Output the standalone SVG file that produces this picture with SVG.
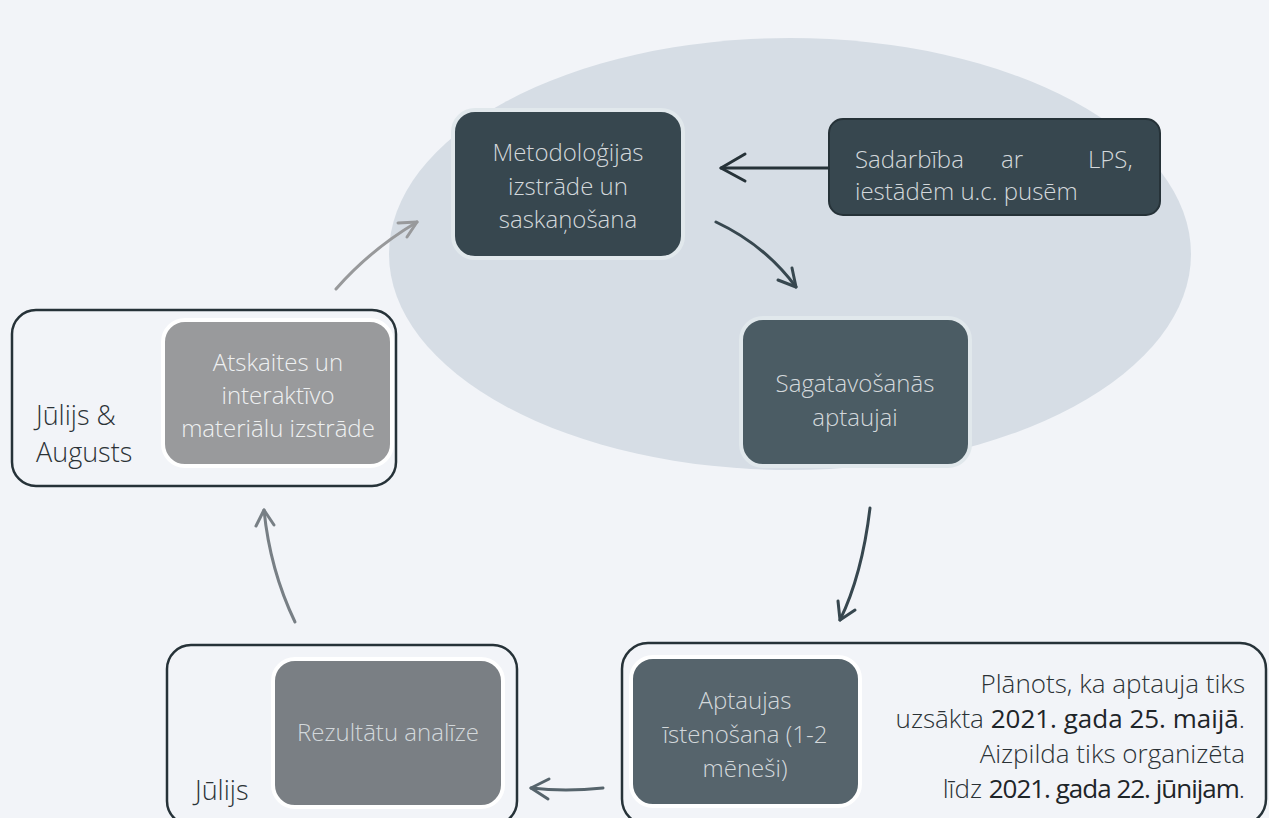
<svg xmlns="http://www.w3.org/2000/svg" width="1269" height="818" viewBox="0 0 1269 818">
<defs>
<style>
.t{font-family:"Open Sans","Liberation Sans",sans-serif;font-weight:300;font-size:24px;fill:#d3d8db;text-anchor:middle}
.lbl{font-family:"Open Sans","Liberation Sans",sans-serif;font-weight:300;font-size:27px;fill:#2b3236}
.b{font-weight:400;fill:#1e2529}
.frame{fill:#f2f4f8;stroke:#263238;stroke-width:2.5}
.c{fill:none;stroke-width:3;stroke-linecap:round}
</style>
</defs>
<rect width="1269" height="818" fill="#f2f4f8"/>
<ellipse cx="790" cy="254" rx="401" ry="216" fill="#d6dde5"/>

<g id="frame-augusts"><rect class="frame" x="12" y="310" width="384" height="176" rx="24"/></g>
<g id="frame-julijs"><rect class="frame" x="167" y="645" width="350" height="180" rx="24"/></g>
<g id="frame-aptauja"><rect class="frame" x="622" y="643" width="644" height="182" rx="26"/></g>

<g id="n-metodologija">
<rect x="453" y="110" width="230" height="148" rx="22" fill="#37474f" stroke="#e1e8ec" stroke-width="4"/>
<text class="t"><tspan x="568" y="161">Metodoloģijas</tspan><tspan x="568" y="195">izstrāde un</tspan><tspan x="568" y="228">saskaņošana</tspan></text>
</g>
<g id="n-sadarbiba">
<rect x="829" y="119" width="331" height="96" rx="14" fill="#37474f" stroke="#263238" stroke-width="2"/>
<text class="t" style="text-anchor:start"><tspan x="855" y="168">Sadarbība</tspan><tspan x="1001" y="168">ar</tspan><tspan x="1088" y="168">LPS,</tspan><tspan x="855" y="200">iestādēm u.c. pusēm</tspan></text>
</g>
<g id="n-sagatavosanas">
<rect x="741" y="318" width="229" height="148" rx="22" fill="#4b5c64" stroke="#e1e8ec" stroke-width="4"/>
<text class="t"><tspan x="855" y="392">Sagatavošanās</tspan><tspan x="855" y="426">aptaujai</tspan></text>
</g>
<g id="n-aptaujas">
<rect x="631" y="657" width="229" height="149" rx="22" fill="#56646c" stroke="#ffffff" stroke-width="4"/>
<text class="t"><tspan x="745" y="709">Aptaujas</tspan><tspan x="745" y="743">īstenošana (1-2</tspan><tspan x="745" y="777">mēneši)</tspan></text>
<text class="lbl" style="text-anchor:end;font-size:26px"><tspan x="1245" y="693">Plānots, ka aptauja tiks</tspan><tspan x="1245" y="728">uzsākta <tspan class="b">2021. gada 25. maijā</tspan>.</tspan><tspan x="1245" y="763">Aizpilda tiks organizēta</tspan><tspan x="1245" y="798">līdz <tspan class="b" style="letter-spacing:-1px">2021. gada 22. jūnijam</tspan>.</tspan></text>
</g>
<g id="n-rezultatu">
<rect x="273" y="659" width="230" height="148" rx="22" fill="#7a7f84" stroke="#ffffff" stroke-width="4"/>
<text class="t"><tspan x="388" y="741">Rezultātu analīze</tspan></text>
<text class="lbl"><tspan x="195" y="800">Jūlijs</tspan></text>
</g>
<g id="n-atskaites">
<rect x="163" y="320" width="229" height="146" rx="22" fill="#999a9c" stroke="#ffffff" stroke-width="4"/>
<text class="t" style="fill:#eef0f1"><tspan x="278" y="371">Atskaites un</tspan><tspan x="278" y="404">interaktīvo</tspan><tspan x="278" y="437">materiālu izstrāde</tspan></text>
<text class="lbl"><tspan x="36" y="425">Jūlijs &amp;</tspan><tspan x="36" y="462">Augusts</tspan></text>
</g>

<g id="connectors">
<path class="c" d="M828,168 L721,168" stroke="#263238"/>
<path class="c" d="M721,168 L745,154 M721,168 L745,181" stroke="#263238"/>
<path class="c" d="M716,222 Q765,245 796,287" stroke="#37474f"/>
<path class="c" d="M796,287 L778,280 M796,287 L792,268" stroke="#37474f"/>
<path class="c" d="M870,508 Q862,575 840,620" stroke="#37474f"/>
<path class="c" d="M840,620 L838,601 M840,620 L855,610" stroke="#37474f"/>
<path class="c" d="M603,788 Q565,792 531,788" stroke="#56646c"/>
<path class="c" d="M531,788 L549,779 M531,788 L548,799" stroke="#56646c"/>
<path class="c" d="M295,622 Q270,570 264,510" stroke="#787f85"/>
<path class="c" d="M264,510 L256,526 M264,510 L274,525" stroke="#787f85"/>
<path class="c" d="M336,289 Q370,250 417,222" stroke="#98999b"/>
<path class="c" d="M417,222 L398,223 M417,222 L407,237" stroke="#98999b"/>
</g>
</svg>
